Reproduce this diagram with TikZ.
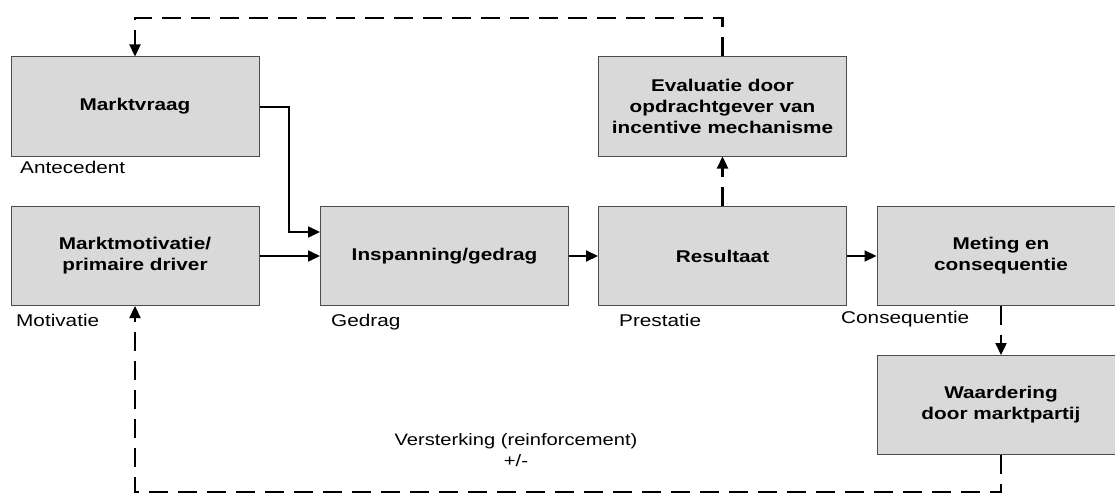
\documentclass[tikz,border=0pt]{standalone}
\usepackage{fontspec}
\setmainfont[FakeStretch=1.22]{Liberation Sans}
\usetikzlibrary{arrows.meta}
\begin{document}
\begin{tikzpicture}[x=1pt,y=-1pt,
  box/.style={draw=black!70, line width=1pt, fill=black!15, minimum width=248pt,
    minimum height=99pt, inner sep=0pt, align=center,
    font=\bfseries\fontsize{17}{21}\selectfont},
  lbl/.style={anchor=base west, inner sep=0pt, font=\fontsize{17}{21}\selectfont},
  note/.style={anchor=base, inner sep=0pt, font=\fontsize{16.5}{21}\selectfont},
  flow/.style={line width=2pt, -{Triangle[length=12pt,width=11pt]}},
  fb/.style={flow, line width=2.3pt, dash pattern=on 19pt off 10pt},
]
\useasboundingbox (0,0) rectangle (1115,495);

% process boxes
\node[box] (mv)  at (135,106.5)   {Marktvraag};
\node[box] (mm)  at (135,256)     {Marktmotivatie/\\primaire driver};
\node[box] (ig)  at (444.5,256)   {Inspanning/gedrag};
\node[box] (res) at (722.5,256)   {Resultaat};
\node[box] (ev)  at (722.5,106.5) {Evaluatie door\\opdrachtgever van\\incentive mechanisme};
\node[box] (mc)  at (1001,256)    {Meting en\\consequentie};
\node[box] (wd)  at (1001,405)    {Waardering\\door marktpartij};

% captions under the boxes
\node[lbl] (la) at (20,173)  {Antecedent};
\node[lbl] (lm) at (16,326)  {Motivatie};
\node[lbl] (lg) at (331,326) {Gedrag};
\node[lbl] (lp) at (619,326) {Prestatie};
\node[lbl] (lc) at (841,323) {Consequentie};

% label of the reinforcement loop
\node[note] (vs1) at (516,445) {Versterking (reinforcement)};
\node[note] (vs2) at (516,466) {+/-};

% corner points of the routed connectors
\coordinate (k1) at (289,106.5);
\coordinate (k2) at (289,232);
\coordinate (t1) at (722.5,18);
\coordinate (t2) at (135,18);
\coordinate (b1) at (1001,492);
\coordinate (b2) at (135,492);

% main flow
\draw[flow] (mv.east) -- (k1) -- (k2) -- (k2 -| ig.west);
\draw[flow] (mm.east) -- (ig.west);
\draw[flow] (ig.east) -- (res.west);
\draw[flow] (res.east) -- (mc.west);

% feedback loops
\draw[fb] (res.north) -- (ev.south);
\draw[fb] (ev.north) -- (t1) -- (t2) -- (mv.north);
\draw[fb] (mc.south) -- (wd.north);
\draw[fb] (wd.south) -- (b1) -- (b2) -- (mm.south);
\end{tikzpicture}
\end{document}
